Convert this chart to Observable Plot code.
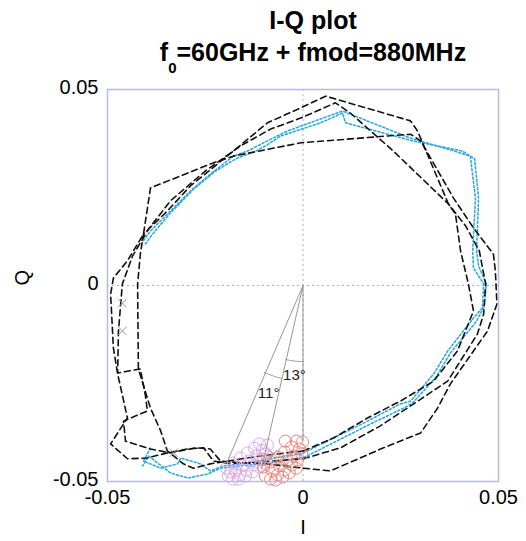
<!DOCTYPE html>
<html>
<head>
<meta charset="utf-8">
<script src="https://cdn.jsdelivr.net/npm/d3@7"></script>
<script src="https://cdn.jsdelivr.net/npm/@observablehq/plot@0.6"></script>
<style>
  html, body { margin: 0; padding: 0; background: #fff; }
  #title { width: 526px; height: 70px; box-sizing: border-box; padding-left: 100px; padding-top: 4px;
    font-family: 'Liberation Sans', Arial, sans-serif; font-weight: bold; font-size: 25px; line-height: 32px;
    text-align: center; color: #000; }
  #title sub { font-size: 15px; line-height: 0; vertical-align: -12px; }
</style>
</head>
<body>
<div id="title"><div>I-Q plot</div><div>f<sub>0</sub>=60GHz + fmod=880MHz</div></div>
<div id="chart"></div>
<script>
// ---- Data ----
const axisTicks = [-0.05, 0, 0.05];
const tickLabels = ["-0.05", "0", "0.05"];

const blackA_I = [0.0001, 0.0070, 0.0206, 0.0301, 0.0344, 0.0377, 0.0472, 0.0496, 0.0492, 0.0487, 0.0436, 0.0385, 0.0301, 0.0275, -0.0006, -0.0178, -0.0237, -0.0390, -0.0408, -0.0449, -0.0485, -0.0492, -0.0485, -0.0474, -0.0449, -0.0492, -0.0449, -0.0398, -0.0347, -0.0295, -0.0254, -0.0229, -0.0193, -0.0109, 0.0001];
const blackA_Q = [-0.0466, -0.0473, -0.0414, -0.0376, -0.0313, -0.0251, -0.0116, -0.0047, 0.0037, 0.0080, 0.0147, 0.0223, 0.0369, 0.0386, 0.0364, 0.0330, 0.0310, 0.0249, 0.0131, 0.0063, 0.0019, -0.0022, -0.0159, -0.0226, -0.0338, -0.0404, -0.0442, -0.0440, -0.0427, -0.0417, -0.0414, -0.0448, -0.0453, -0.0453, -0.0466];

const blackB_I = [0.0001, 0.0078, 0.0165, 0.0249, 0.0334, 0.0395, 0.0436, 0.0423, 0.0403, 0.0390, 0.0372, 0.0293, 0.0275, 0.0058, -0.0006, -0.0091, -0.0178, -0.0288, -0.0347, -0.0408, -0.0416, -0.0423, -0.0421, -0.0390, -0.0364, -0.0347, -0.0306, -0.0280, -0.0237, -0.0193, -0.0109, 0.0001];
const blackB_Q = [-0.0422, -0.0389, -0.0338, -0.0295, -0.0244, -0.0167, -0.0065, 0.0004, 0.0088, 0.0182, 0.0208, 0.0394, 0.0420, 0.0483, 0.0453, 0.0415, 0.0343, 0.0254, 0.0190, 0.0131, 0.0080, 0.0004, -0.0213, -0.0313, -0.0371, -0.0422, -0.0455, -0.0466, -0.0455, -0.0448, -0.0435, -0.0422];

const blackC_I = [0.0001, 0.0096, 0.0198, 0.0283, 0.0370, 0.0446, 0.0462, 0.0467, 0.0451, 0.0416, 0.0372, 0.0231, 0.0121, 0.0083, -0.0006, -0.0083, -0.0160, -0.0250, -0.0339, -0.0395, -0.0436, -0.0462, -0.0472, -0.0474, -0.0416, -0.0403, -0.0398, -0.0459, -0.0454, -0.0390, -0.0339, -0.0275, -0.0237, -0.0211, -0.0147, -0.0083, 0.0001];
const blackC_Q = [-0.0442, -0.0414, -0.0358, -0.0302, -0.0244, -0.0124, -0.0073, 0.0004, 0.0088, 0.0152, 0.0208, 0.0343, 0.0440, 0.0466, 0.0427, 0.0399, 0.0356, 0.0292, 0.0216, 0.0144, 0.0075, 0.0004, -0.0117, -0.0223, -0.0213, -0.0281, -0.0320, -0.0346, -0.0397, -0.0417, -0.0427, -0.0414, -0.0417, -0.0448, -0.0453, -0.0448, -0.0442];

const cyan1_I = [-0.0408, -0.0390, -0.0347, -0.0288, -0.0237, -0.0178, -0.0142, -0.0091, -0.0040, 0.0045, 0.0101, 0.0275, 0.0403, 0.0428, 0.0441, 0.0434, 0.0436, 0.0462, 0.0459, 0.0436, 0.0370, 0.0334, 0.0275, 0.0249, 0.0165, 0.0078, 0.0001, -0.0083, -0.0160, -0.0203, -0.0237, -0.0262, -0.0313, -0.0321, -0.0364, -0.0408, -0.0390];
const cyan1_Q = [0.0114, 0.0139, 0.0182, 0.0241, 0.0284, 0.0330, 0.0343, 0.0369, 0.0394, 0.0425, 0.0445, 0.0376, 0.0338, 0.0330, 0.0223, 0.0088, 0.0045, 0.0004, -0.0057, -0.0083, -0.0167, -0.0226, -0.0295, -0.0302, -0.0346, -0.0389, -0.0427, -0.0442, -0.0455, -0.0460, -0.0473, -0.0455, -0.0440, -0.0455, -0.0466, -0.0448, -0.0414];

const cyan2_I = [-0.0403, -0.0385, -0.0339, -0.0280, -0.0224, -0.0168, -0.0121, -0.0096, -0.0058, 0.0045, 0.0101, 0.0109, 0.0280, 0.0408, 0.0439, 0.0449, 0.0444, 0.0449, 0.0469, 0.0464, 0.0444, 0.0377, 0.0341, 0.0280, 0.0257, 0.0173, 0.0086, 0.0006, -0.0083, -0.0160, -0.0211, -0.0244, -0.0295, -0.0339, -0.0395, -0.0410];
const cyan2_Q = [0.0106, 0.0131, 0.0185, 0.0246, 0.0292, 0.0325, 0.0343, 0.0356, 0.0381, 0.0415, 0.0440, 0.0415, 0.0369, 0.0343, 0.0323, 0.0223, 0.0088, 0.0050, 0.0004, -0.0052, -0.0091, -0.0172, -0.0233, -0.0300, -0.0313, -0.0353, -0.0397, -0.0437, -0.0453, -0.0460, -0.0466, -0.0481, -0.0491, -0.0478, -0.0435, -0.0460];

const violetI = [-0.0191, -0.0173, -0.0155, -0.0137, -0.0119, -0.0104, -0.0091, -0.0180, -0.0162, -0.0145, -0.0127, -0.0109, -0.0096, -0.0196, -0.0178, -0.0160, -0.0142, -0.0124, -0.0111, -0.0165, -0.0147, -0.0129, -0.0111, -0.0096, -0.0185];
const violetQ = [-0.0486, -0.0473, -0.0460, -0.0448, -0.0435, -0.0420, -0.0407, -0.0494, -0.0483, -0.0471, -0.0458, -0.0445, -0.0430, -0.0466, -0.0453, -0.0440, -0.0427, -0.0415, -0.0404, -0.0494, -0.0486, -0.0476, -0.0463, -0.0453, -0.0476];

const redI = [-0.0096, -0.0078, -0.0060, -0.0042, -0.0024, -0.0009, -0.0001, -0.0083, -0.0065, -0.0047, -0.0029, -0.0014, -0.0003, -0.0101, -0.0083, -0.0065, -0.0047, -0.0029, -0.0017, -0.0070, -0.0052, -0.0035, -0.0017, -0.0045, -0.0101];
const redQ = [-0.0486, -0.0473, -0.0460, -0.0448, -0.0435, -0.0417, -0.0399, -0.0494, -0.0483, -0.0471, -0.0458, -0.0445, -0.0430, -0.0463, -0.0450, -0.0438, -0.0425, -0.0412, -0.0397, -0.0496, -0.0489, -0.0478, -0.0466, -0.0397, -0.0443];

const crossI = [-0.0462, -0.0462, -0.0331, -0.0075, -0.0045];
const crossQ = [-0.0045, -0.0116, -0.0427, -0.0430, -0.0460];

const rayEndI = [0, -0.0106, -0.0194];
const rayEndQ = [-0.0395, -0.0468, -0.0450];

const arcFromDeg = [0, 13];
const arcToDeg = [13, 24];
const arcRadius = [0.0194, 0.0243];
const angleText = ["13°", "11°"];
const angleTextI = [-0.0022, -0.0088];
const angleTextQ = [-0.0228, -0.0275];

// ---- Build tables ----
const pts = (I, Q, series) => I.map((x, i) => ({x, y: Q[i], series}));
const blackLines = [
  ...pts(blackA_I, blackA_Q, "A"),
  ...pts(blackB_I, blackB_Q, "B"),
  ...pts(blackC_I, blackC_Q, "C")
];
const cyanLines = [
  ...pts(cyan1_I, cyan1_Q, "1"),
  ...pts(cyan2_I, cyan2_Q, "2")
];
const violet = pts(violetI, violetQ, "v");
const red = pts(redI, redQ, "r");
const crosses = pts(crossI, crossQ, "x");
const rays = pts(rayEndI, rayEndQ, "ray");
const arcs = arcRadius.flatMap((r, k) =>
  d3.range(0, 21).map(j => {
    const a = (arcFromDeg[k] + (arcToDeg[k] - arcFromDeg[k]) * j / 20) * Math.PI / 180;
    return {x: -r * Math.sin(a), y: -r * Math.cos(a), series: k};
  })
);
const angleLabels = angleText.map((t, i) => ({t, x: angleTextI[i], y: angleTextQ[i]}));

const fmt = d => tickLabels[axisTicks.indexOf(d)];
const hasAxisMarks = typeof Plot.axisY === "function" && typeof Plot.axisX === "function";

const axisMarks = hasAxisMarks ? [
  Plot.axisX(axisTicks, {tickFormat: fmt, tickSize: 0, tickPadding: 8, label: null, fontSize: 20}),
  Plot.axisY(axisTicks, {tickFormat: fmt, tickSize: 0, tickPadding: 9, label: null, fontSize: 20, dy: -2})
] : [];

const chart = Plot.plot({
  width: 526,
  height: 471,
  marginLeft: 107,
  marginRight: 28,
  marginTop: 19,
  marginBottom: 60,
  style: {fontFamily: "'Liberation Sans', Arial, sans-serif", fontSize: "20px", color: "#000", background: "#fff", overflow: "visible"},
  x: hasAxisMarks ? {domain: [-0.05, 0.05], label: null}
     : {domain: [-0.05, 0.05], ticks: axisTicks, tickFormat: fmt, tickSize: 0, tickPadding: 8, label: null},
  y: hasAxisMarks ? {domain: [-0.05, 0.05], label: null}
     : {domain: [-0.05, 0.05], ticks: axisTicks, tickFormat: fmt, tickSize: 0, tickPadding: 9, label: null},
  marks: [
    ...axisMarks,
    Plot.ruleX([0], {stroke: "#a9a9ec", strokeDasharray: "2,3", strokeWidth: 1}),
    Plot.ruleY([0], {stroke: "#a9a9ec", strokeDasharray: "2,3", strokeWidth: 1}),
    Plot.line(cyanLines, {x: "x", y: "y", z: "series", stroke: "#2ea9de", strokeWidth: 1.6, strokeDasharray: "2,2.2"}),
    Plot.line(blackLines, {x: "x", y: "y", z: "series", stroke: "#111", strokeWidth: 1.6, strokeDasharray: "6,4"}),
    Plot.dot(violet, {x: "x", y: "y", r: 6, stroke: "#d7a2e6", strokeWidth: 0.9, fill: "none"}),
    Plot.dot(red, {x: "x", y: "y", r: 6, stroke: "#ee7b70", strokeWidth: 0.9, fill: "none"}),
    Plot.dot(crosses, {x: "x", y: "y", r: 4, symbol: "times", stroke: "#9a9a9a", strokeWidth: 1}),
    Plot.link(rays, {x1: () => 0, y1: () => 0, x2: "x", y2: "y", stroke: "#8a8a8a", strokeWidth: 0.9}),
    Plot.line(arcs, {x: "x", y: "y", z: "series", stroke: "#8a8a8a", strokeWidth: 0.9}),
    Plot.text(angleLabels, {x: "x", y: "y", text: "t", fontSize: 15, fill: "#222"}),
    Plot.frame({stroke: "#b9b9ec", strokeWidth: 1.5}),
    Plot.text(["Q"], {frameAnchor: "left", text: d => d, dx: -85, rotate: -90, fontSize: 20, fill: "#000"}),
    Plot.text(["I"], {frameAnchor: "bottom", text: d => d, dy: 52, fontSize: 20, fill: "#000"})
  ]
});
document.getElementById("chart").appendChild(chart);
</script>
</body>
</html>
